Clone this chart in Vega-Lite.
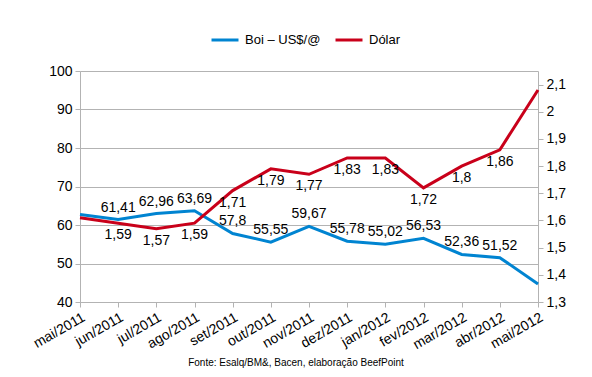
{
  "$schema": "https://vega.github.io/schema/vega-lite/v6.json",
  "autosize": {"type": "none"},
  "width": 458,
  "height": 231,
  "padding": {"left": 80, "top": 71, "right": 54, "bottom": 75},
  "background": "white",
  "config": {
    "locale": {"number": {"decimal": ",", "thousands": ".", "grouping": [3], "currency": ["R$", ""]}},
    "font": "Liberation Sans",
    "view": {"stroke": null},
    "axis": {"labelFont": "Liberation Sans", "labelColor": "#000", "labelFontSize": 14, "domainColor": "#b3b3b3", "tickColor": "#b3b3b3", "gridColor": "#b3b3b3", "tickSize": 5, "domainWidth": 1, "gridWidth": 1, "labelOverlap": false}
  },
  "title": {"text": "Fonte: Esalq/BM&, Bacen, elaboração BeefPoint", "orient": "bottom", "anchor": "middle", "fontSize": 10, "fontWeight": "normal", "font": "Liberation Sans", "color": "#000", "offset": 6, "dx": -13},
  "data": {"values": [
    {"month": "mai/2011", "series": "Boi – US$/@", "value": 62.7, "show": false},
    {"month": "jun/2011", "series": "Boi – US$/@", "value": 61.41, "show": true},
    {"month": "jul/2011", "series": "Boi – US$/@", "value": 62.96, "show": true},
    {"month": "ago/2011", "series": "Boi – US$/@", "value": 63.69, "show": true},
    {"month": "set/2011", "series": "Boi – US$/@", "value": 57.8, "show": true},
    {"month": "out/2011", "series": "Boi – US$/@", "value": 55.55, "show": true},
    {"month": "nov/2011", "series": "Boi – US$/@", "value": 59.67, "show": true},
    {"month": "dez/2011", "series": "Boi – US$/@", "value": 55.78, "show": true},
    {"month": "jan/2012", "series": "Boi – US$/@", "value": 55.02, "show": true},
    {"month": "fev/2012", "series": "Boi – US$/@", "value": 56.53, "show": true},
    {"month": "mar/2012", "series": "Boi – US$/@", "value": 52.36, "show": true},
    {"month": "abr/2012", "series": "Boi – US$/@", "value": 51.52, "show": true},
    {"month": "mai/2012", "series": "Boi – US$/@", "value": 44.7, "show": false},
    {"month": "mai/2011", "series": "Dólar", "value": 1.61, "show": false},
    {"month": "jun/2011", "series": "Dólar", "value": 1.59, "show": true},
    {"month": "jul/2011", "series": "Dólar", "value": 1.57, "show": true},
    {"month": "ago/2011", "series": "Dólar", "value": 1.59, "show": true},
    {"month": "set/2011", "series": "Dólar", "value": 1.71, "show": true},
    {"month": "out/2011", "series": "Dólar", "value": 1.79, "show": true},
    {"month": "nov/2011", "series": "Dólar", "value": 1.77, "show": true},
    {"month": "dez/2011", "series": "Dólar", "value": 1.83, "show": true},
    {"month": "jan/2012", "series": "Dólar", "value": 1.83, "show": true},
    {"month": "fev/2012", "series": "Dólar", "value": 1.72, "show": true},
    {"month": "mar/2012", "series": "Dólar", "value": 1.8, "show": true},
    {"month": "abr/2012", "series": "Dólar", "value": 1.86, "show": true},
    {"month": "mai/2012", "series": "Dólar", "value": 2.08, "show": false}
  ]},
  "encoding": {
    "x": {"field": "month", "type": "ordinal", "sort": null, "scale": {"type": "point", "padding": 0},
      "axis": {"title": null, "labelAngle": -30, "labelAlign": "right", "labelBaseline": "top", "labelPadding": 3, "grid": false, "domain": true, "ticks": true}}
  },
  "layer": [
    {
      "transform": [{"filter": "datum.series === 'Boi – US$/@'"}],
      "layer": [
        {
          "mark": {"type": "line", "strokeWidth": 3},
          "encoding": {
            "y": {"field": "value", "type": "quantitative", "scale": {"domain": [40, 100], "nice": false, "zero": false},
              "axis": {"title": null, "orient": "left", "values": [40, 50, 60, 70, 80, 90, 100], "tickCount": 20, "grid": true, "domain": true, "labelPadding": 3}},
            "color": {"field": "series", "type": "nominal", "sort": ["Boi – US$/@", "Dólar"],
              "scale": {"domain": ["Boi – US$/@", "Dólar"], "range": ["#0084d1", "#c9001a"]},
              "legend": {"title": null, "orient": "none", "legendX": 130, "legendY": -46, "direction": "horizontal", "symbolType": "stroke", "symbolSize": 729, "symbolStrokeWidth": 3, "labelFontSize": 13, "labelFont": "Liberation Sans", "labelColor": "#000", "labelOffset": 5, "columnPadding": 8}}
          }
        },
        {
          "transform": [{"filter": "datum.show"}],
          "mark": {"type": "text", "fontSize": 14, "color": "#000", "baseline": "middle", "dy": -12},
          "encoding": {
            "y": {"field": "value", "type": "quantitative"},
            "text": {"field": "value", "type": "quantitative", "format": ".2~f"}
          }
        }
      ]
    },
    {
      "transform": [{"filter": "datum.series === 'Dólar'"}],
      "layer": [
        {
          "mark": {"type": "line", "strokeWidth": 3},
          "encoding": {
            "y": {"field": "value", "type": "quantitative", "scale": {"domain": [1.3, 2.15], "nice": false, "zero": false},
              "axis": {"title": null, "orient": "right", "values": [1.3, 1.4, 1.5, 1.6, 1.7, 1.8, 1.9, 2.0, 2.1], "tickCount": 20, "format": ".1~f", "grid": false, "domain": true, "labelPadding": 3}},
            "color": {"field": "series", "type": "nominal"}
          }
        },
        {
          "transform": [{"filter": "datum.show"}],
          "mark": {"type": "text", "fontSize": 14, "color": "#000", "baseline": "middle", "dy": 12},
          "encoding": {
            "y": {"field": "value", "type": "quantitative"},
            "text": {"field": "value", "type": "quantitative", "format": ".2~f"}
          }
        }
      ]
    }
  ],
  "resolve": {"scale": {"y": "independent", "color": "shared"}}
}
